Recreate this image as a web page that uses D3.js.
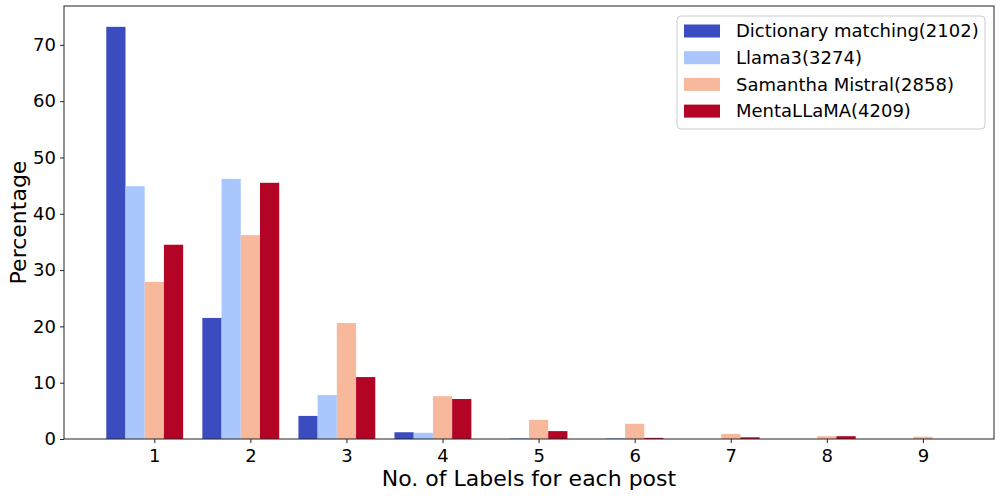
<!DOCTYPE html>
<html>
<head>
<meta charset="utf-8">
<script src="https://cdn.jsdelivr.net/npm/d3@7"></script>
<style>
  body { margin: 0; background: #fff; }
  text { font-family: "DejaVu Sans", sans-serif; fill: #000; }
</style>
</head>
<body>
<div id="wrapper"></div>
<script>
// Data
const categories = [1, 2, 3, 4, 5, 6, 7, 8, 9]
const seriesNames = ["Dictionary matching(2102)", "Llama3(3274)", "Samantha Mistral(2858)", "MentaLLaMA(4209)"]
const seriesColors = ["#3b4cc0", "#aac7fd", "#f7b89c", "#b40426"]
const dictionaryValues = [73.2, 21.5, 4.1, 1.2, 0, 0, 0, 0, 0]
const llamaValues = [44.9, 46.2, 7.8, 1.1, 0.2, 0.2, 0, 0, 0]
const samanthaValues = [27.9, 36.2, 20.6, 7.6, 3.4, 2.7, 0.9, 0.5, 0.4]
const mentaValues = [34.5, 45.5, 11.0, 7.1, 1.4, 0.2, 0.3, 0.5, 0]
const yTicks = [0, 10, 20, 30, 40, 50, 60, 70]

const seriesValues = [dictionaryValues, llamaValues, samanthaValues, mentaValues]

// Chart dimensions
let dimensions = {
    width: 1000,
    height: 496,
    margin: { top: 6, right: 6, bottom: 57, left: 64 },
}
dimensions.boundedWidth = dimensions.width - dimensions.margin.left - dimensions.margin.right
dimensions.boundedHeight = dimensions.height - dimensions.margin.top - dimensions.margin.bottom

const wrapper = d3.select("#wrapper")
    .append("svg")
        .attr("width", dimensions.width)
        .attr("height", dimensions.height)
const bounds = wrapper.append("g")
    .attr("transform", `translate(${dimensions.margin.left},${dimensions.margin.top})`)

// Scales
const barWidth = 0.2
const xScale = d3.scaleLinear()
    .domain([0.06, 9.74])
    .range([0, dimensions.boundedWidth])
const yScale = d3.scaleLinear()
    .domain([0, 76.9])
    .range([dimensions.boundedHeight, 0])

// Bars
seriesValues.forEach((values, i) => {
    const offset = (i - 2) * barWidth
    bounds.append("g").selectAll("rect")
        .data(values)
        .join("rect")
            .attr("x", (d, j) => xScale(categories[j] + offset - barWidth / 2))
            .attr("width", xScale(barWidth) - xScale(0))
            .attr("y", d => yScale(d))
            .attr("height", d => yScale(0) - yScale(d))
            .attr("fill", seriesColors[i])
})

// Axes
const xAxis = bounds.append("g")
    .attr("transform", `translate(0,${dimensions.boundedHeight})`)
    .call(d3.axisBottom(xScale).tickValues(categories).tickFormat(d3.format("d")).tickSize(4).tickPadding(6))
const yAxis = bounds.append("g")
    .call(d3.axisLeft(yScale).tickValues(yTicks).tickSize(4).tickPadding(4))
;[xAxis, yAxis].forEach(a => {
    a.select(".domain").remove()
    a.selectAll("line").attr("stroke", "#222").attr("stroke-width", 1)
    a.selectAll("text").style("font-size", "18px").style("font-family", "DejaVu Sans")
})

// Frame
bounds.append("rect")
    .attr("width", dimensions.boundedWidth)
    .attr("height", dimensions.boundedHeight)
    .attr("fill", "none")
    .attr("stroke", "#222")
    .attr("stroke-width", 1)

// Labels
wrapper.append("text")
    .attr("x", dimensions.margin.left + dimensions.boundedWidth / 2)
    .attr("y", 486)
    .attr("text-anchor", "middle")
    .style("font-size", "22px")
    .text("No. of Labels for each post")
wrapper.append("text")
    .attr("transform", `translate(26,${dimensions.margin.top + dimensions.boundedHeight / 2}) rotate(-90)`)
    .attr("text-anchor", "middle")
    .style("font-size", "22px")
    .text("Percentage")

// Legend
const legend = wrapper.append("g").attr("transform", "translate(677,16)")
legend.append("rect")
    .attr("width", 308)
    .attr("height", 113)
    .attr("rx", 4)
    .attr("fill", "#fff")
    .attr("fill-opacity", 0.8)
    .attr("stroke", "#ccc")
seriesNames.forEach((name, i) => {
    const row = legend.append("g").attr("transform", `translate(7,${15 + i * 26.7})`)
    row.append("rect")
        .attr("y", -6.5)
        .attr("width", 36)
        .attr("height", 13)
        .attr("fill", seriesColors[i])
    row.append("text")
        .attr("x", 52)
        .attr("dy", "0.35em")
        .style("font-size", "18px")
        .text(name)
})
</script>
</body>
</html>
